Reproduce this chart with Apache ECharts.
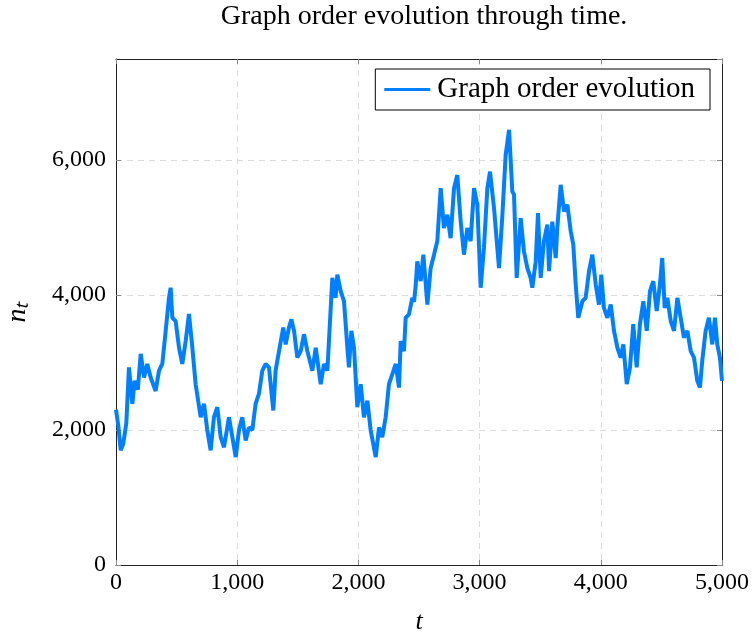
<!DOCTYPE html>
<html>
<head>
<meta charset="utf-8">
<script src="https://cdn.jsdelivr.net/npm/echarts@6/dist/echarts.min.js"></script>
<style>html,body{margin:0;padding:0;background:#fff}#c{width:754px;height:637px}</style>
</head>
<body>
<div id="c"></div>
<script>
var tValues = [0,20,39,60,85,107,135,154,180,204,231,258,286,327,355,382,410,437,451,465,492,520,547,575,602,630,657,699,726,753,781,808,836,864,891,932,960,988,1015,1042,1070,1097,1125,1152,1180,1207,1235,1262,1298,1317,1345,1380,1400,1427,1447,1469,1496,1524,1551,1579,1620,1648,1689,1716,1744,1757,1785,1812,1826,1854,1881,1895,1909,1922,1942,1964,1991,2019,2046,2074,2101,2143,2170,2197,2225,2252,2280,2308,2335,2349,2376,2390,2417,2445,2459,2473,2486,2514,2536,2569,2596,2624,2651,2679,2706,2734,2761,2789,2816,2844,2871,2899,2926,2954,2981,3009,3036,3064,3086,3119,3160,3188,3215,3243,3270,3284,3306,3339,3366,3394,3421,3435,3463,3482,3504,3531,3559,3573,3600,3628,3641,3669,3697,3724,3752,3773,3793,3814,3848,3875,3903,3930,3958,3985,4004,4026,4054,4082,4109,4137,4164,4186,4214,4241,4268,4296,4323,4351,4379,4406,4433,4461,4488,4507,4527,4549,4577,4604,4632,4659,4686,4714,4742,4769,4796,4818,4837,4865,4892,4920,4942,4961,4983,5000];
var orderValues = [2300,2050,1700,1800,2100,2930,2390,2730,2600,3130,2780,2980,2780,2580,2880,2980,3470,3960,4110,3665,3616,3220,2980,3320,3720,3220,2680,2190,2390,2000,1700,2190,2340,1895,1745,2190,1895,1600,2000,2190,1845,2040,2000,2390,2540,2880,2980,2930,2290,2880,3170,3520,3270,3520,3640,3470,3075,3170,3420,3170,2880,3220,2680,2980,2880,3320,4255,3960,4305,4060,3910,3570,3220,2930,3470,3220,2340,2680,2190,2435,2000,1600,2040,1895,2190,2680,2830,2980,2630,3320,3170,3665,3715,3960,3900,4150,4500,4207,4600,3860,4400,4600,4800,5585,4995,5190,4845,5585,5780,5090,4600,4995,4800,5585,5340,4110,4700,5585,5830,5290,4400,5190,6075,6450,5535,5490,4255,5140,4650,4400,4255,4110,4500,5215,4255,4800,5045,4355,5090,4550,4995,5635,5240,5340,4945,4750,4160,3665,3910,3960,4355,4600,4160,3860,4305,3810,3665,3860,3470,3220,3075,3270,2680,2930,3570,2930,3570,3910,3470,4060,4207,3765,4160,4550,3810,3960,3616,3470,3960,3665,3370,3470,3170,3075,2730,2630,3026,3470,3665,3270,3665,3270,3075,2730];
var xTicks = [0,1000,2000,3000,4000,5000];
var yTicks = [0,2000,4000,6000];

var seriesData = tValues.map(function(t,i){return [t, orderValues[i]];});
var FONT = 'Liberation Serif';
function fmt(v){ return Number(v).toLocaleString('en-US'); }
var tick = {show:true, inside:true, length:5, lineStyle:{color:'#888', width:1}};
var split = {show:true, showMinLine:false, showMaxLine:false, lineStyle:{color:'#dcdcdc', type:[6,5], width:1}};
var frame = {show:true, onZero:false, lineStyle:{color:'#222', width:1}};

var chart = echarts.init(document.getElementById('c'), null, {renderer:'canvas'});
chart.setOption({
  animation:false,
  backgroundColor:'#fff',
  title:{text:'Graph order evolution through time.', left:419, textAlign:'center', top:-2,
    textStyle:{fontFamily:FONT, fontSize:28, fontWeight:'normal', color:'#000'}},
  legend:{right:44, top:69, padding:[6,15,6,9], borderColor:'#000', borderWidth:1,
    icon:'rect', itemWidth:46, itemHeight:3, itemGap:8, backgroundColor:'#fff',
    textStyle:{fontFamily:FONT, fontSize:29, color:'#000', padding:[0,0,0,2]}},
  grid:{left:116, right:32, top:59, bottom:72, show:false, containLabel:false, outerBoundsMode:'none'},
  xAxis:[{type:'value', min:xTicks[0], max:xTicks[xTicks.length-1], interval:1000,
    name:'t', nameLocation:'middle', nameGap:44,
    nameTextStyle:{fontFamily:FONT, fontSize:26, fontStyle:'italic', color:'#000'},
    axisLine:frame, axisTick:tick, splitLine:split,
    axisLabel:{fontFamily:FONT, fontSize:24, color:'#000', margin:6, formatter:fmt}},
   {type:'value', position:'top', min:0, max:5000, interval:1000,
    axisLine:frame, axisTick:tick, splitLine:{show:false}, axisLabel:{show:false}}],
  yAxis:[{type:'value', min:0, max:7500, interval:2000,
    name:'n\u209C', nameLocation:'middle', nameGap:84, nameRotate:90,
    nameTextStyle:{fontFamily:FONT, fontSize:28, fontStyle:'italic', color:'#000'},
    axisLine:frame, axisTick:tick, splitLine:split,
    axisLabel:{fontFamily:FONT, fontSize:24, color:'#000', margin:10, showMaxLabel:false, formatter:fmt}},
   {type:'value', position:'right', min:0, max:7500, interval:2000,
    axisLine:frame, axisTick:tick, splitLine:{show:false}, axisLabel:{show:false}}],
  series:[{name:'Graph order evolution', type:'line', xAxisIndex:0, yAxisIndex:0,
    data:seriesData, symbol:'none', lineStyle:{color:'#0080ff', width:4}, itemStyle:{color:'#0080ff'}}]
});
</script>
</body>
</html>
